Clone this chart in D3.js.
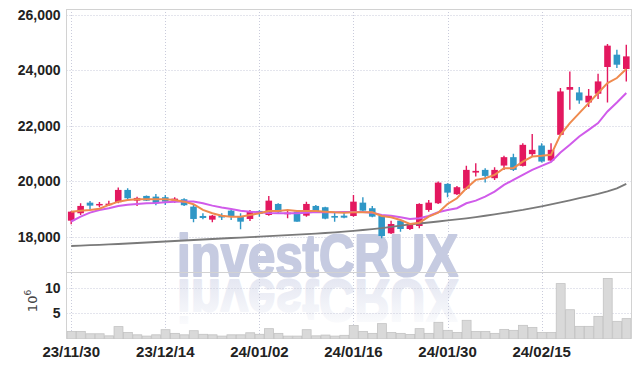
<!DOCTYPE html>
<html><head><meta charset="utf-8">
<script src="https://cdn.jsdelivr.net/npm/d3@7"></script>
<style>
html,body{margin:0;padding:0;background:#fff;}
svg{display:block;}
text{font-family:"Liberation Sans Narrow","Arial Narrow","Liberation Sans",sans-serif;}
</style></head>
<body>
<svg id="chart" width="639" height="366"></svg>
<script>
const dates = ["23/11/30","23/12/01","23/12/04","23/12/05","23/12/06","23/12/07","23/12/08","23/12/11","23/12/12","23/12/13","23/12/14","23/12/15","23/12/18","23/12/19","23/12/20","23/12/21","23/12/22","23/12/26","23/12/27","23/12/28","24/01/02","24/01/03","24/01/04","24/01/05","24/01/08","24/01/09","24/01/10","24/01/11","24/01/12","24/01/15","24/01/16","24/01/17","24/01/18","24/01/19","24/01/22","24/01/23","24/01/24","24/01/25","24/01/26","24/01/29","24/01/30","24/01/31","24/02/01","24/02/02","24/02/05","24/02/06","24/02/07","24/02/08","24/02/13","24/02/14","24/02/15","24/02/16","24/02/19","24/02/20","24/02/21","24/02/22","24/02/23","24/02/26","24/02/27","24/02/28"];
const open  = [18578,18846,19229,19135,19157,19244,19688,19301,19471,19446,19424,19301,19352,19085,18748,18615,18748,18940,18723,18640,18929,18784,19182,18810,18904,18759,19110,19063,18748,18759,18748,19229,19027,18748,18123,18578,18278,18387,18965,19207,19905,19533,19735,20314,20411,20111,20567,20870,20556,20979,21290,20747,21676,23303,23206,22844,23159,24124,24568,24051];
const high  = [18930,19207,19290,19254,19301,19771,19750,19446,19490,19544,19507,19424,19388,19171,18846,18784,18846,18965,18846,18965,18954,19471,19207,18965,18929,19265,19146,19085,18868,18904,19507,19424,19110,18784,18578,18604,18459,19207,19327,19988,19930,19833,20556,20653,20473,20509,20917,20990,21376,21702,21376,21376,23365,23965,23401,23328,23882,24955,24749,24930];
const low   = [18448,18784,18965,19063,19110,19207,19327,19110,19290,19135,19146,19229,19110,18521,18629,18521,18604,18604,18268,18568,18723,18759,18831,18665,18542,18723,18857,18629,18542,18665,18723,18904,18701,17942,18098,18181,18242,18304,18904,19182,19424,19507,19688,20169,19952,20050,20411,20375,20531,20892,20675,20711,21640,22580,22797,22678,22967,22844,24088,23603];
const close = [18904,19110,19121,19182,19193,19688,19388,19399,19301,19207,19265,19374,19135,18640,18676,18759,18712,18723,18542,18929,18821,19301,18882,18868,18542,19182,18893,18651,18687,18687,19265,18940,18723,18025,18459,18278,18423,19182,19229,19952,19591,19786,20411,20375,20194,20411,20870,20411,21315,21134,20711,21134,23242,23401,22916,23086,23603,24894,24207,24507];
const volume = [1.47,1.47,1.0,1.0,0.6,2.4,1.27,0.8,0.55,0.8,1.8,1.08,0.8,1.6,0.9,0.8,0.55,0.8,0.8,1.2,0.9,2.0,1.08,0.55,0.55,1.8,0.6,0.75,0.55,0.7,2.6,1.47,1.08,2.98,1.27,1.08,0.88,2.0,1.08,3.24,1.67,1.27,3.63,1.47,1.47,1.08,1.86,1.67,2.65,2.25,1.27,1.27,10.8,5.7,2.45,2.45,4.4,11.8,3.43,3.96];
const ma5 = [18904,18940,18965,19012,19146,19265,19327,19352,19352,19352,19352,19327,19265,19171,18965,18846,18759,18723,18723,18784,18846,18929,18929,18965,18929,18929,18929,18904,18882,18868,18882,18882,18882,18748,18701,18604,18459,18506,18723,18868,19182,19388,19750,20050,20111,20230,20473,20473,20711,20892,20917,20953,21676,22099,22461,22822,23184,23545,23726,24051];
const ma20 = [18549,18723,18868,18965,19027,19110,19157,19182,19207,19218,19244,19265,19272,19272,19207,19121,19056,19001,18940,18904,18882,18857,18846,18846,18846,18868,18893,18882,18882,18893,18893,18893,18868,18784,18759,18701,18640,18665,18748,18882,18965,19027,19207,19301,19446,19627,19869,20050,20230,20411,20556,20700,21037,21315,21615,21857,22099,22519,22844,23184];
const ma120 = [17664,17678,17693,17707,17722,17736,17754,17772,17790,17808,17826,17845,17863,17881,17899,17917,17935,17953,17967,17982,18000,18018,18036,18054,18072,18090,18112,18134,18159,18184,18213,18242,18271,18307,18351,18398,18441,18477,18513,18549,18586,18625,18665,18709,18756,18806,18857,18911,18965,19027,19092,19164,19236,19312,19388,19464,19544,19634,19742,19905];
const priceTicks = [18000,20000,22000,24000,26000];
const volTicks = [5,10];
const dateTicks = ["23/11/30","23/12/14","24/01/02","24/01/16","24/01/30","24/02/15"];

const svg = d3.select("#chart");
const L = 66.5, R = 631, T = 9, MID = 272, B = 338.9;
const x = d3.scaleBand().domain(dates).range([L, R]).padding(0);
const cx = d => x(d) + x.bandwidth()/2;
const y = d3.scaleLinear().domain([18000, 26000]).range([236.7, 15]);
const yv = d3.scaleLinear().domain([0, 10]).range([B, 287.7]);

const UP = "#e3185f", DOWN = "#2f97c6";
const defs = svg.append("defs");
defs.append("clipPath").attr("id","cp").append("rect").attr("x",L).attr("y",T).attr("width",R-L).attr("height",MID-T);
defs.append("clipPath").attr("id","cv").append("rect").attr("x",L).attr("y",MID).attr("width",R-L).attr("height",B-MID);
const grad = defs.append("linearGradient").attr("id","refl").attr("x1",0).attr("y1",0).attr("x2",0).attr("y2",1);
grad.append("stop").attr("offset","0%").attr("stop-color","#ffffff");
grad.append("stop").attr("offset","100%").attr("stop-color","#dfe2ef");

// watermark
const WMF = "Liberation Sans, Arial, sans-serif";
const wm = svg.append("g");
wm.append("text").attr("x",177).attr("y",276)
  .attr("font-weight","bold").attr("font-size",60).attr("fill","#c6cbe1")
  .attr("stroke","#c6cbe1").attr("stroke-width",2.2).attr("stroke-linejoin","round")
  .attr("textLength",281).attr("lengthAdjust","spacingAndGlyphs").style("font-family",WMF)
  .text("investCRUX");
wm.append("text").attr("transform","translate(0,556) scale(1,-1)").attr("x",177).attr("y",276)
  .attr("font-weight","bold").attr("font-size",60).attr("fill","url(#refl)")
  .attr("stroke","url(#refl)").attr("stroke-width",2.2).attr("stroke-linejoin","round")
  .attr("textLength",281).attr("lengthAdjust","spacingAndGlyphs").style("font-family",WMF)
  .text("investCRUX");

// grid
const grid = svg.append("g").attr("stroke","#c9cbdb").attr("stroke-width",1).attr("stroke-dasharray","1,2");
grid.selectAll(".hg").data(priceTicks).join("line").attr("x1",L).attr("x2",R).attr("y1",d=>Math.round(y(d))+0.5).attr("y2",d=>Math.round(y(d))+0.5);
grid.selectAll(".vg").data(volTicks).join("line").attr("x1",L).attr("x2",R).attr("y1",d=>Math.round(yv(d))+0.5).attr("y2",d=>Math.round(yv(d))+0.5);
grid.selectAll(".xg").data(dateTicks).join("line").attr("x1",d=>Math.round(cx(d))+0.5).attr("x2",d=>Math.round(cx(d))+0.5).attr("y1",T).attr("y2",B);

// frame
const fr = svg.append("g").attr("stroke","#d2d2d2").attr("stroke-width",1).attr("fill","none");
fr.append("line").attr("x1",L).attr("x2",L).attr("y1",T).attr("y2",B);
fr.append("line").attr("x1",R+0.5).attr("x2",R+0.5).attr("y1",T).attr("y2",B);
fr.append("line").attr("x1",L).attr("x2",R).attr("y1",T+0.5).attr("y2",T+0.5);
fr.append("line").attr("x1",L).attr("x2",R).attr("y1",MID+0.5).attr("y2",MID+0.5);

// volume bars
svg.append("g").attr("clip-path","url(#cv)").selectAll("rect").data(dates).join("rect")
  .attr("x",d=>x(d)+0.5).attr("width",x.bandwidth()-0.5)
  .attr("y",(d,i)=>yv(volume[i])).attr("height",(d,i)=>B-yv(volume[i]))
  .attr("fill","#d9d9d9").attr("stroke","#c3c3c3").attr("stroke-width",0.8);

// candles
const cg = svg.append("g").attr("clip-path","url(#cp)");
const bw = x.bandwidth()*0.7;
const cs = cg.selectAll("g").data(dates).join("g");
cs.append("line").attr("x1",d=>cx(d)).attr("x2",d=>cx(d))
  .attr("y1",(d,i)=>y(high[i])).attr("y2",(d,i)=>y(low[i]))
  .attr("stroke",(d,i)=>close[i]>=open[i]?UP:DOWN).attr("stroke-width",1.4);
cs.append("rect").attr("x",d=>cx(d)-bw/2).attr("width",bw)
  .attr("y",(d,i)=>y(Math.max(open[i],close[i])))
  .attr("height",(d,i)=>Math.max(1.5, Math.abs(y(open[i])-y(close[i]))))
  .attr("fill",(d,i)=>close[i]>=open[i]?UP:DOWN);

// moving averages
const lg = svg.append("g").attr("clip-path","url(#cp)").attr("fill","none");
const mk = arr => d3.line().x(d=>cx(d)).y((d,i)=>y(arr[i])).curve(d3.curveLinear)(dates);
lg.append("path").attr("d",mk(ma120)).attr("stroke","#7a7a7a").attr("stroke-width",1.8);
lg.append("path").attr("d",mk(ma20)).attr("stroke","#d05bea").attr("stroke-width",2);
lg.append("path").attr("d",mk(ma5)).attr("stroke","#ef8a4e").attr("stroke-width",2);

// axes
const AXF = "Liberation Sans Narrow, Arial Narrow, Liberation Sans, sans-serif";
const yAxis = d3.axisLeft(y).tickValues(priceTicks).tickSize(0).tickPadding(6).tickFormat(d3.format(","));
const ya = svg.append("g").attr("transform",`translate(${L},0)`).call(yAxis);
ya.select(".domain").remove();
ya.selectAll("text").attr("font-size",14).attr("font-weight","bold").attr("fill","#222").style("font-family",AXF);

const vAxis = d3.axisLeft(yv).tickValues(volTicks).tickSize(0).tickPadding(6).tickFormat(d3.format("d"));
const va = svg.append("g").attr("transform",`translate(${L},0)`).call(vAxis);
va.select(".domain").remove();
va.selectAll("text").attr("font-size",14).attr("font-weight","bold").attr("fill","#222").style("font-family",AXF);

const xAxis = d3.axisBottom(x).tickValues(dateTicks).tickSize(0).tickPadding(4);
const xa = svg.append("g").attr("transform",`translate(0,${B})`).call(xAxis);
xa.select(".domain").remove();
xa.selectAll("text").attr("font-size",15).attr("font-weight","bold").attr("fill","#222").attr("dy","0.95em").style("font-family",AXF);

const unit = svg.append("text").attr("transform","translate(37,301) rotate(-90)").attr("text-anchor","middle")
  .attr("font-size",13).attr("fill","#444").style("font-family","DejaVu Sans, sans-serif");
unit.append("tspan").text("10");
unit.append("tspan").attr("font-size",9).attr("dy",-6).text("6");
</script>
</body></html>
